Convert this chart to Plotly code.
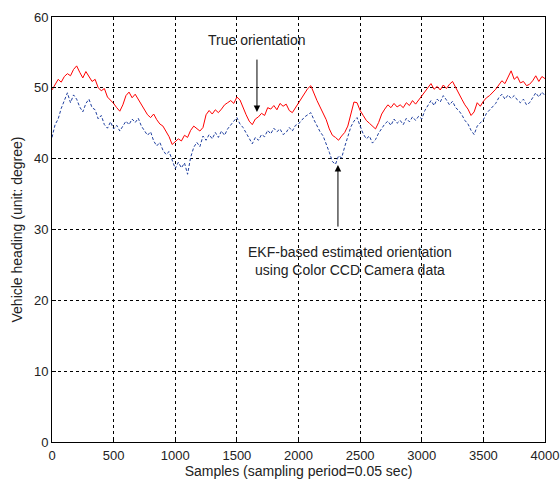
import numpy as np
import plotly.graph_objects as go

true_heading = [
    49.7, 50.5, 51.2, 50.8, 51.6, 52.0, 51.7, 52.6, 53.1, 52.2,
    51.4, 52.3, 51.6, 50.9, 51.2, 50.0, 49.6, 49.9, 48.7, 48.3,
    47.8, 47.2, 46.7, 47.6, 48.9, 49.4, 48.6, 49.1, 48.4, 47.6,
    46.9, 46.2, 45.8, 46.3, 45.5, 44.9, 44.6, 43.8, 43.1, 42.0,
    42.4, 42.8, 42.5, 43.3, 43.0, 44.0, 44.6, 44.2, 43.9, 44.4,
    46.2, 46.8, 46.3, 46.9, 46.5, 47.0, 47.6, 47.9, 48.2, 47.8,
    48.7, 48.3, 47.1, 46.2, 45.3, 44.8, 45.6, 45.9, 46.4, 46.1,
    47.2, 47.0, 47.5, 46.9, 47.8, 47.4, 47.7, 46.8, 46.5, 47.2,
    47.8, 48.6, 49.4, 49.9, 50.3, 49.2, 48.2, 47.3, 46.4, 45.5,
    44.2, 43.3, 43.0, 42.6, 43.2, 43.7, 44.6, 46.3, 48.0, 47.9,
    46.8, 46.1, 45.4, 45.0, 44.6, 44.2, 45.1, 46.3, 47.0, 47.6,
    47.2, 47.8, 47.3, 47.6, 47.2, 47.9, 47.5, 48.2, 47.7, 48.3,
    48.8, 49.5, 50.1, 50.6, 49.8, 50.2, 49.7, 50.4, 49.9, 50.5,
    50.9, 50.0, 49.1, 48.4, 47.6, 47.0, 46.1, 46.6, 47.9, 47.4,
    48.1, 48.6, 48.9, 49.3, 49.8, 50.4, 51.0, 50.6, 51.5, 52.4,
    51.2, 51.6, 50.7, 50.9, 50.3, 50.5, 51.0, 51.7, 50.9, 51.6,
    51.3,
]

ekf_heading = [
    43.0, 44.8, 45.6, 47.1, 48.2, 49.3, 47.9, 49.0, 48.4, 47.3,
    46.6, 47.8, 48.4, 47.2, 46.9, 45.6, 46.1, 44.8, 44.3, 45.2,
    44.2, 44.7, 43.9, 44.6, 45.3, 44.8, 45.6, 45.1, 45.7, 44.6,
    43.9, 43.3, 43.8, 42.5, 41.8, 42.3, 41.2, 40.6, 41.0, 39.8,
    38.6, 39.5, 38.7, 39.4, 37.8, 40.2, 41.6, 42.3, 41.7, 43.2,
    42.6, 43.4, 42.8, 43.7, 43.0, 43.9, 43.3, 44.2, 44.8, 45.3,
    45.8, 44.9, 44.4, 43.7, 42.9, 42.1, 43.0, 42.6, 43.4, 43.1,
    44.0, 43.5, 44.3, 43.8, 44.2, 43.4, 43.7, 44.4, 43.9, 44.7,
    44.9, 45.4, 45.9, 46.2, 46.5, 45.5, 44.6, 43.8, 43.2, 42.1,
    40.9, 39.6, 39.2, 40.4, 40.1, 41.7, 43.2, 44.5, 45.3, 45.8,
    44.6, 43.5, 42.8, 43.2, 42.2, 42.7, 43.6, 44.3, 44.9, 45.3,
    44.7, 45.6, 45.0, 45.4, 44.8, 45.7, 45.2, 45.9, 45.4, 46.0,
    45.6, 46.8, 47.6, 48.2, 47.5, 48.4, 48.0, 48.9, 48.3, 47.6,
    48.1, 47.2, 46.8, 46.2, 45.4, 44.9, 44.0, 43.4, 44.6, 45.1,
    45.5, 46.4, 46.9, 47.3, 47.8, 48.6, 49.1, 48.4, 49.0, 48.5,
    48.9, 48.3, 47.9, 48.4, 47.6, 47.9, 48.6, 49.3, 48.7, 49.4,
    48.9,
]

samples = np.linspace(0, 4000, len(true_heading))
samples_ekf = np.linspace(0, 4000, len(ekf_heading))

x_ticks = [0, 500, 1000, 1500, 2000, 2500, 3000, 3500, 4000]
y_ticks = [0, 10, 20, 30, 40, 50, 60]

fig = go.Figure()
fig.add_trace(go.Scatter(x=samples, y=true_heading, mode="lines",
                         line=dict(color="#ff0000", width=1), showlegend=False))
fig.add_trace(go.Scatter(x=samples_ekf, y=ekf_heading, mode="lines",
                         line=dict(color="#1f3f9f", width=1, dash="3px,2px"),
                         showlegend=False))

font = dict(family="Liberation Sans, Arial, sans-serif", size=14, color="#222222")
tick_font = dict(family="Liberation Sans, Arial, sans-serif", size=13, color="#222222")

axis_common = dict(showgrid=True, gridcolor="#000000", griddash="3px,3px", gridwidth=1,
                   showline=True, linecolor="#000000", linewidth=1, mirror=True,
                   ticks="inside", ticklen=4, tickcolor="#000000", zeroline=False,
                   automargin=False, tickfont=tick_font)

fig.update_layout(
    width=560, height=486,
    margin=dict(l=52, r=15, t=17, b=44),
    paper_bgcolor="white", plot_bgcolor="white",
    font=font,
    xaxis=dict(range=[0, 4000], tickvals=x_ticks, ticklabelstandoff=1,
               title=dict(text="Samples (sampling period=0.05 sec)", standoff=2, font=font),
               **axis_common),
    yaxis=dict(range=[0, 60], tickvals=y_ticks,
               title=dict(text="Vehicle heading (unit: degree)", standoff=8, font=font),
               **axis_common),
)

fig.add_annotation(x=1663, y=46.6, ax=1663, ay=54.2, xref="x", yref="y",
                   axref="x", ayref="y", text="", showarrow=True,
                   arrowhead=2, arrowsize=1.3, arrowwidth=1, arrowcolor="#000000")
fig.add_annotation(x=1663, y=56.8, xref="x", yref="y", text="True orientation",
                   showarrow=False, font=font)
fig.add_annotation(x=2320, y=39.1, ax=2320, ay=30.2, xref="x", yref="y",
                   axref="x", ayref="y", text="", showarrow=True,
                   arrowhead=2, arrowsize=1.3, arrowwidth=1, arrowcolor="#000000")
fig.add_annotation(x=2418, y=25.6, xref="x", yref="y",
                   text="EKF-based estimated orientation<br>using Color CCD Camera data",
                   showarrow=False, font=font, align="center")

fig.write_html("out.html")
